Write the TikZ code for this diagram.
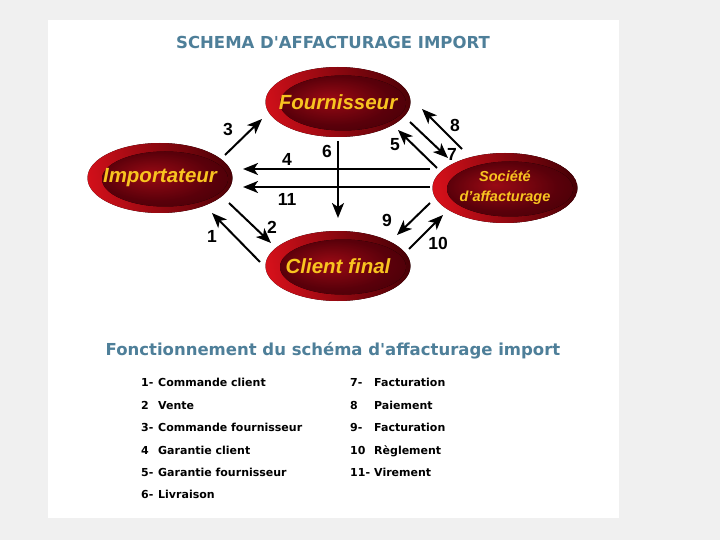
\documentclass[tikz,border=0pt]{standalone}
\usepackage{fontspec}
\setmainfont{Liberation Sans}
\newfontfamily\verd{DejaVu Sans}
\usetikzlibrary{shapes.geometric,arrows.meta}
\definecolor{titleblue}{HTML}{4E7F99}
\definecolor{goldtxt}{HTML}{F8C420}
\definecolor{bgrey}{HTML}{F0F0F0}
\definecolor{rimred}{HTML}{D4101A}
\definecolor{rimdark}{HTML}{4A0006}
\definecolor{innerdark}{HTML}{2E0004}
\definecolor{innermid}{HTML}{5A000A}
\definecolor{innerred}{HTML}{9A0A14}
\pgfdeclareradialshading{innerell}{\pgfpoint{-6bp}{4bp}}{color(0bp)=(innerred); color(22bp)=(innermid); color(50bp)=(innerdark)}
\tikzset{
  ell/.style={ellipse, minimum width=145pt, minimum height=70pt, inner sep=0pt,
    font=\fontsize{20.5}{20.5}\selectfont\bfseries\itshape, text=goldtxt, align=center,
    path picture={
      \fill[left color=rimred, right color=rimdark, shading angle=100]
        (path picture bounding box.center) ellipse [x radius=72.5pt, y radius=35pt];
      \fill[shading=innerell]
        ([xshift=5pt,yshift=-1pt]path picture bounding box.center) ellipse [x radius=63pt, y radius=27.5pt];
    }},
  arr/.style={line width=2pt, -{Stealth[length=15pt,width=12pt,inset=4pt]}},
  lab/.style={font=\fontsize{17.5}{17.5}\selectfont\bfseries, inner sep=0pt},
  leg/.style={font=\verd\fontsize{11}{11}\selectfont\bfseries, anchor=base west, inner sep=0pt},
  ttl/.style={font=\verd\fontsize{16.5}{16.5}\selectfont\bfseries, text=titleblue, inner sep=0pt}
}
\begin{document}
\begin{tikzpicture}[x=1pt,y=-1pt]
\useasboundingbox (0,0) rectangle (720,540);
\fill[bgrey] (0,0) rectangle (720,540);
\fill[white] (48,20) rectangle (619,518);

\node[ttl] (title) at (333,42) {SCHEMA D'AFFACTURAGE IMPORT};

\node[ell] (F) at (338,102) {Fournisseur};
\node[ell] (I) at (160,178) {Importateur};
\node[ell] (C) at (338,266) {Client final};
\node[ell, font=\fontsize{14.5}{20}\selectfont\bfseries\itshape] (S) at (505,188) {Société\\d'affacturage};

% arrow endpoints
\coordinate (a3s) at (225,155); \coordinate (a3e) at (262,119);
\coordinate (a4s) at (430,169); \coordinate (a4e) at (243,169);
\coordinate (a11s) at (430,187); \coordinate (a11e) at (243,187);
\coordinate (a6s) at (338,141); \coordinate (a6e) at (338,218);
\coordinate (a2s) at (229,203); \coordinate (a2e) at (271,243);
\coordinate (a1s) at (260,262); \coordinate (a1e) at (212,213);
\coordinate (a5s) at (437,168); \coordinate (a5e) at (398,130);
\coordinate (a7s) at (410,122); \coordinate (a7e) at (448,158);
\coordinate (a8s) at (462,149); \coordinate (a8e) at (422,109);
\coordinate (a9s) at (430,203); \coordinate (a9e) at (397,235);
\coordinate (a10s) at (409,249); \coordinate (a10e) at (443,215);

\draw[arr] (a3s) -- (a3e);
\draw[arr] (a4s) -- (a4e);
\draw[arr] (a11s) -- (a11e);
\draw[arr] (a6s) -- (a6e);
\draw[arr] (a2s) -- (a2e);
\draw[arr] (a1s) -- (a1e);
\draw[arr] (a5s) -- (a5e);
\draw[arr] (a7s) -- (a7e);
\draw[arr] (a8s) -- (a8e);
\draw[arr] (a9s) -- (a9e);
\draw[arr] (a10s) -- (a10e);

\node[lab] (l3) at (228,129) {3};
\node[lab] (l4) at (287,159) {4};
\node[lab] (l11) at (287,199) {11};
\node[lab] (l6) at (327,151) {6};
\node[lab] (l2) at (272,227) {2};
\node[lab] (l1) at (212,236) {1};
\node[lab] (l5) at (395,145) {5};
\node[lab] (l7) at (452,154) {7};
\node[lab] (l8) at (455,125) {8};
\node[lab] (l9) at (387,220) {9};
\node[lab] (l10) at (438,243) {10};

\node[ttl] (sub) at (333,351) {Fonctionnement du schéma d'affacturage import};

\node[leg] (n1) at (141,386) {1-};  \node[leg] (t1) at (158,386) {Commande client};
\node[leg] (n2) at (141,409) {2};   \node[leg] (t2) at (158,409) {Vente};
\node[leg] (n3) at (141,431) {3-};  \node[leg] (t3) at (158,431) {Commande fournisseur};
\node[leg] (n4) at (141,454) {4};   \node[leg] (t4) at (158,454) {Garantie client};
\node[leg] (n5) at (141,476) {5-};  \node[leg] (t5) at (158,476) {Garantie fournisseur};
\node[leg] (n6) at (141,498) {6-};  \node[leg] (t6) at (158,498) {Livraison};
\node[leg] (n7) at (350,386) {7-};  \node[leg] (t7) at (374,386) {Facturation};
\node[leg] (n8) at (350,409) {8};   \node[leg] (t8) at (374,409) {Paiement};
\node[leg] (n9) at (350,431) {9-};  \node[leg] (t9) at (374,431) {Facturation};
\node[leg] (n10) at (350,454) {10}; \node[leg] (t10) at (374,454) {Règlement};
\node[leg] (n11) at (350,476) {11-};\node[leg] (t11) at (374,476) {Virement};
\end{tikzpicture}
\end{document}
